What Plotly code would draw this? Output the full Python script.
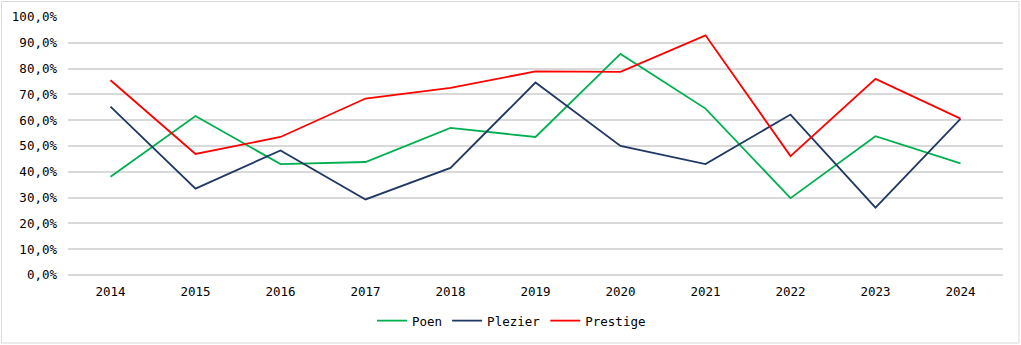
import plotly.graph_objects as go

years = ["2014", "2015", "2016", "2017", "2018", "2019", "2020", "2021", "2022", "2023", "2024"]
poen = [0.381, 0.616, 0.430, 0.438, 0.570, 0.535, 0.857, 0.645, 0.298, 0.538, 0.433]
plezier = [0.653, 0.335, 0.483, 0.293, 0.415, 0.746, 0.500, 0.430, 0.622, 0.261, 0.605]
prestige = [0.755, 0.469, 0.535, 0.684, 0.725, 0.789, 0.787, 0.929, 0.461, 0.760, 0.606]

font_family = "DejaVu Sans Mono"
txt = dict(family=font_family, size=12.5, color="#000000")

fig = go.Figure()
fig.add_trace(go.Scatter(x=years, y=poen, name="Poen", mode="lines",
                         line=dict(color="#00b050", width=1.8)))
fig.add_trace(go.Scatter(x=years, y=plezier, name="Plezier", mode="lines",
                         line=dict(color="#1f3864", width=1.8)))
fig.add_trace(go.Scatter(x=years, y=prestige, name="Prestige", mode="lines",
                         line=dict(color="#ff0000", width=1.8)))

L, R, T, B = 68, 18, 17, 70
W, H = 1021, 345
pw = W - L - R
ph = H - T - B

fig.update_layout(
    width=W, height=H,
    margin=dict(l=L, r=R, t=T, b=B, autoexpand=False),
    paper_bgcolor="white", plot_bgcolor="white",
    separators=",.",
    font=txt,
    showlegend=True,
    legend=dict(orientation="h", xref="container", yref="container",
                x=0.5 + 1 / W, xanchor="center", y=1 - 321 / H,
                yanchor="middle", font=txt, itemwidth=30, tracegroupgap=0),
    xaxis=dict(type="category", showgrid=False, showline=False, ticks="",
               tickfont=txt, ticklabelstandoff=7,
               range=[-0.5, 10.5], fixedrange=True),
    yaxis=dict(range=[0, 1.0], dtick=0.1, tickformat=".1%", showgrid=True,
               gridcolor="#d9d9d9", gridwidth=1.5, zeroline=True, zerolinecolor="#d9d9d9",
               zerolinewidth=1.5, showline=False, ticks="", ticklen=0,
               tickfont=txt, ticklabelstandoff=10),
    shapes=[dict(type="rect", xref="paper", yref="paper",
                 x0=(1.5 - L) / pw, x1=(1019 - L) / pw,
                 y0=-(343 - (H - B)) / ph, y1=1 + (T - 1.5) / ph,
                 line=dict(color="#d9d9d9", width=1), fillcolor="rgba(0,0,0,0)", layer="below")],
)

fig.write_html("out.html")
